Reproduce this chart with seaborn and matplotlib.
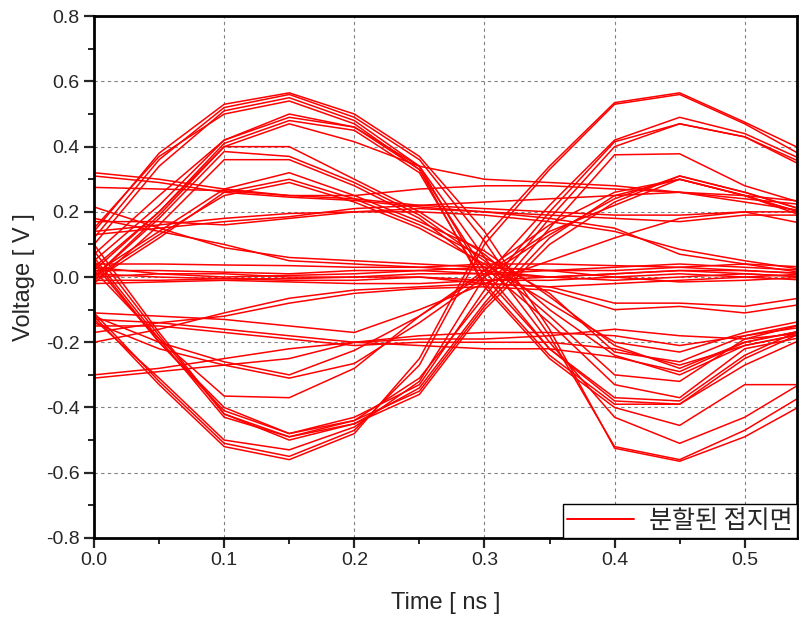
import numpy as np
import pandas as pd
import matplotlib
matplotlib.use("Agg")
import matplotlib.pyplot as plt
import seaborn as sns
from matplotlib.lines import Line2D
from matplotlib.ticker import MultipleLocator, FormatStrFormatter

# sample times (ns), one value per 50 ps
time_ns = [0.0, 0.05, 0.1, 0.15, 0.2, 0.25, 0.3, 0.35, 0.4, 0.45, 0.5, 0.55]

# big swing, high in the first bit, low in the second
big_high = [
    [0.14, 0.38, 0.53, 0.565, 0.50, 0.37, 0.14, -0.16, -0.525, -0.565, -0.49, -0.38],
    [0.12, 0.36, 0.52, 0.56, 0.49, 0.36, 0.11, -0.18, -0.52, -0.56, -0.47, -0.35],
    [0.10, 0.34, 0.51, 0.55, 0.48, 0.34, 0.06, -0.20, -0.43, -0.51, -0.43, -0.31],
    [0.15, 0.37, 0.50, 0.54, 0.47, 0.33, 0.02, -0.22, -0.38, -0.39, -0.25, -0.16],
    [0.05, 0.22, 0.42, 0.50, 0.46, 0.34, 0.00, -0.22, -0.37, -0.38, -0.24, -0.15],
    [0.03, 0.20, 0.41, 0.48, 0.45, 0.32, -0.02, -0.24, -0.39, -0.39, -0.27, -0.18],
    [0.07, 0.25, 0.42, 0.49, 0.46, 0.33, -0.03, -0.25, -0.40, -0.455, -0.33, -0.33],
]

# medium swing, high then low
mid_high = [
    [0.00, 0.19, 0.40, 0.47, 0.415, 0.34, 0.30, 0.29, 0.28, 0.26, 0.24, 0.22],
    [0.02, 0.20, 0.40, 0.40, 0.30, 0.20, 0.07, -0.10, -0.24, -0.30, -0.21, -0.17],
    [0.00, 0.18, 0.385, 0.37, 0.29, 0.19, 0.05, -0.12, -0.30, -0.32, -0.19, -0.14],
    [-0.02, 0.16, 0.36, 0.36, 0.28, 0.18, 0.03, -0.14, -0.33, -0.37, -0.22, -0.18],
    [0.01, 0.14, 0.27, 0.32, 0.25, 0.17, 0.08, -0.06, -0.21, -0.28, -0.20, -0.16],
    [-0.01, 0.12, 0.26, 0.30, 0.24, 0.16, 0.06, -0.05, -0.23, -0.26, -0.18, -0.15],
    [0.00, 0.13, 0.25, 0.29, 0.23, 0.15, 0.04, -0.08, -0.20, -0.23, -0.17, -0.13],
]

# big swing, low then high
big_low = [
    [-0.12, -0.33, -0.52, -0.56, -0.48, -0.25, 0.12, 0.34, 0.535, 0.565, 0.475, 0.38],
    [-0.11, -0.32, -0.51, -0.55, -0.47, -0.27, 0.10, 0.33, 0.53, 0.56, 0.47, 0.36],
    [-0.13, -0.31, -0.50, -0.53, -0.46, -0.32, 0.00, 0.22, 0.42, 0.49, 0.44, 0.35],
    [0.05, -0.20, -0.40, -0.48, -0.43, -0.33, -0.04, 0.20, 0.415, 0.47, 0.43, 0.34],
    [0.08, -0.18, -0.42, -0.49, -0.44, -0.31, -0.06, 0.18, 0.40, 0.47, 0.43, 0.33],
    [0.10, -0.17, -0.42, -0.50, -0.45, -0.34, -0.08, 0.15, 0.375, 0.378, 0.28, 0.22],
    [0.06, -0.19, -0.43, -0.49, -0.45, -0.36, -0.10, 0.10, 0.23, 0.31, 0.26, 0.20],
    [0.04, -0.20, -0.41, -0.48, -0.44, -0.35, -0.09, 0.12, 0.25, 0.30, 0.25, 0.19],
]

# medium swing, low then high
mid_low = [
    [0.02, -0.19, -0.365, -0.37, -0.28, -0.12, 0.02, 0.16, 0.26, 0.30, 0.25, 0.19],
    [-0.14, -0.22, -0.27, -0.31, -0.265, -0.14, 0.00, 0.13, 0.24, 0.31, 0.26, 0.20],
    [-0.12, -0.20, -0.26, -0.30, -0.225, -0.12, 0.01, 0.14, 0.22, 0.30, 0.25, 0.18],
]

# slow positive levels
flat_pos = [
    [0.32, 0.30, 0.27, 0.25, 0.24, 0.22, 0.21, 0.20, 0.19, 0.19, 0.20, 0.20],
    [0.31, 0.29, 0.26, 0.245, 0.235, 0.215, 0.20, 0.19, 0.18, 0.17, 0.19, 0.19],
    [0.275, 0.27, 0.265, 0.25, 0.25, 0.27, 0.28, 0.28, 0.27, 0.26, 0.23, 0.20],
    [0.13, 0.15, 0.17, 0.185, 0.21, 0.22, 0.23, 0.24, 0.25, 0.26, 0.25, 0.23],
    [0.14, 0.16, 0.18, 0.195, 0.20, 0.20, 0.19, 0.17, 0.14, 0.085, 0.05, 0.02],
    [0.17, 0.17, 0.16, 0.18, 0.20, 0.21, 0.20, 0.18, 0.15, 0.07, 0.04, 0.01],
    [0.215, 0.15, 0.09, 0.06, 0.05, 0.04, 0.03, 0.02, 0.02, 0.03, 0.04, 0.03],
    [0.18, 0.14, 0.10, 0.05, 0.04, 0.03, 0.02, 0.00, 0.01, 0.02, 0.02, 0.01],
]

# slow negative levels
flat_neg = [
    [-0.31, -0.29, -0.27, -0.25, -0.20, -0.18, -0.17, -0.17, -0.18, -0.21, -0.18, -0.14],
    [-0.13, -0.14, -0.16, -0.18, -0.20, -0.19, -0.19, -0.18, -0.16, -0.18, -0.19, -0.17],
    [-0.15, -0.15, -0.17, -0.19, -0.21, -0.20, -0.20, -0.20, -0.22, -0.27, -0.21, -0.17],
    [-0.30, -0.28, -0.25, -0.22, -0.20, -0.21, -0.22, -0.22, -0.245, -0.29, -0.20, -0.16],
    [-0.20, -0.16, -0.11, -0.065, -0.04, -0.03, -0.02, -0.03, -0.08, -0.08, -0.09, -0.06],
    [-0.17, -0.14, -0.12, -0.08, -0.05, -0.035, -0.03, -0.04, -0.10, -0.09, -0.11, -0.08],
    [-0.11, -0.12, -0.13, -0.15, -0.17, -0.10, -0.02, 0.05, 0.12, 0.18, 0.20, 0.16],
]

# quiet traces around 0 V
near_zero = [
    [0.00, 0.01, 0.01, 0.00, 0.00, 0.01, 0.01, 0.00, -0.01, 0.00, 0.01, 0.00],
    [0.02, 0.02, 0.015, 0.01, 0.02, 0.02, 0.01, 0.02, 0.03, 0.04, 0.03, 0.02],
    [0.04, 0.04, 0.037, 0.035, 0.03, 0.03, 0.04, 0.04, 0.035, 0.03, 0.02, 0.01],
    [-0.01, -0.01, -0.005, -0.01, -0.01, 0.0, -0.01, -0.01, 0.0, 0.01, 0.0, -0.01],
    [-0.02, -0.015, -0.01, -0.015, -0.02, -0.02, -0.01, 0.0, 0.01, 0.02, 0.01, 0.0],
    [0.01, 0.0, -0.005, -0.005, 0.0, 0.0, -0.02, -0.03, -0.02, -0.01, 0.0, 0.01],
    [0.03, 0.01, 0.0, 0.005, 0.01, 0.02, 0.03, 0.02, 0.0, -0.015, -0.01, 0.0],
]

legend_label = "분할된 접지면"

# long-form table, one unit per trace
rows = []
trace_id = 0
for group in [big_high, mid_high, big_low, mid_low, flat_pos, flat_neg, near_zero]:
    for trace in group:
        for t, v in zip(time_ns, trace):
            rows.append({"trace": trace_id, "time": t, "voltage": v})
        trace_id += 1
df = pd.DataFrame(rows)

sns.set_style("white")
plt.rcParams["font.family"] = ["Liberation Sans", "Noto Sans CJK KR", "DejaVu Sans"]

fig = plt.figure(figsize=(8.04, 6.24), dpi=100)
ax = fig.add_axes([0.117, 0.138, 0.874, 0.836])

sns.lineplot(data=df, x="time", y="voltage", units="trace", estimator=None,
             color="#ff0000", linewidth=1.1, sort=False, legend=False, ax=ax)

ax.set_xlim(0, 0.54)
ax.set_ylim(-0.8, 0.8)
ax.xaxis.set_major_locator(MultipleLocator(0.1))
ax.xaxis.set_minor_locator(MultipleLocator(0.05))
ax.yaxis.set_major_locator(MultipleLocator(0.2))
ax.yaxis.set_minor_locator(MultipleLocator(0.1))
ax.xaxis.set_major_formatter(FormatStrFormatter("%.1f"))
ax.yaxis.set_major_formatter(FormatStrFormatter("%.1f"))
ax.tick_params(which="major", direction="out", length=7, width=1.6, labelsize=14,
               bottom=True, left=True, top=False, right=False)
ax.tick_params(which="minor", direction="out", length=4, width=1.4,
               bottom=True, left=True, top=False, right=False)
ax.grid(True, which="major", linestyle=(0, (3, 3)), color="#808080", linewidth=0.8)
for sp in ax.spines.values():
    sp.set_linewidth(2)
    sp.set_color("black")
    sp.set_visible(True)

ax.set_xlabel("Time [ ns ]", fontsize=17, labelpad=16)
ax.set_ylabel("Voltage [ V ]", fontsize=17, labelpad=8)

# single legend entry for all traces
handle = Line2D([0], [0], color="#ff0000", linewidth=1.4)
leg = ax.legend([handle], [legend_label], loc="lower right", borderaxespad=0,
                fancybox=False, framealpha=1, edgecolor="black", handlelength=2.7,
                prop={"family": ["Noto Sans CJK KR"], "size": 18},
                borderpad=0.15, handletextpad=0.6)
leg.get_frame().set_linewidth(1.0)

plt.savefig("out.png", dpi=100)
plt.close()
